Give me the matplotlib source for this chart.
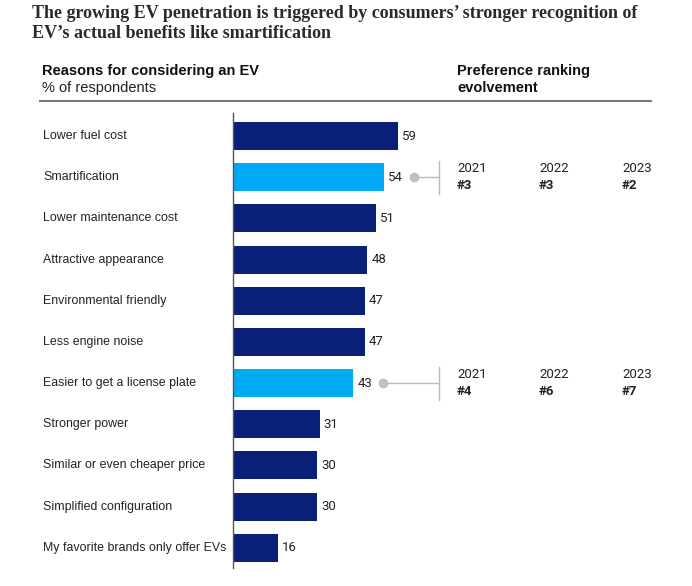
import matplotlib
matplotlib.use("Agg")
import matplotlib.pyplot as plt
import matplotlib.transforms as mtransforms
from matplotlib.lines import Line2D

plt.rcParams['font.family'] = ['Liberation Sans', 'DejaVu Sans']

categories = ["Lower fuel cost", "Smartification", "Lower maintenance cost",
              "Attractive appearance", "Environmental friendly", "Less engine noise",
              "Easier to get a license plate", "Stronger power",
              "Similar or even cheaper price", "Simplified configuration",
              "My favorite brands only offer EVs"]
values = [59, 54, 51, 48, 47, 47, 43, 31, 30, 30, 16]
highlight = ["Smartification", "Easier to get a license plate"]
years = ["2021", "2022", "2023"]
rankings = {
    "Smartification": ["#3", "#3", "#2"],
    "Easier to get a license plate": ["#4", "#6", "#7"],
}

DARK = "#0A1F78"
LIGHT = "#00A9F4"
NUMFONT = ['Roboto', 'Liberation Sans', 'DejaVu Sans']

W, H = 692, 586
fig = plt.figure(figsize=(W / 100, H / 100), dpi=100)

def fx(px):
    return px / W

def fy(py):
    return 1 - py / H

ax_left, ax_right, ax_top, ax_bottom = 233, 680, 113, 568
ax = fig.add_axes([fx(ax_left), fy(ax_bottom), fx(ax_right - ax_left), (ax_bottom - ax_top) / H])
ax.set_xlim(0, (ax_right - ax_left) / 2.8)
ax.set_ylim(len(categories) - 0.51, -0.56)

ypos = list(range(len(categories)))
colors = [LIGHT if c in highlight else DARK for c in categories]
ax.barh(ypos, values, height=0.68, color=colors, zorder=2)

for y, v in zip(ypos, values):
    ax.text(v + 1.4, y, str(v), va='center', ha='left', fontsize=9.5, color='#222222',
            family=NUMFONT)

trans_lbl = mtransforms.blended_transform_factory(fig.transFigure, ax.transData)
for y, c in zip(ypos, categories):
    fig.text(fx(43), y, c, transform=trans_lbl,
             fontsize=8.9, color='#222222', va='center', ha='left')

ax.set_yticks([])
ax.set_xticks([])
for s in ['top', 'right', 'bottom']:
    ax.spines[s].set_visible(False)
ax.spines['left'].set_color('#555555')
ax.spines['left'].set_linewidth(1.0)
ax.set_facecolor('none')

# ranking annotations
vline_x = fx(439)
year_x = [fx(457), fx(539), fx(622)]
for c, ranks in rankings.items():
    i = categories.index(c)
    v = values[i]
    cx = v + 10.7
    ax.plot([cx], [i], marker='o', ms=6, color='#C0C0C0', zorder=3, clip_on=False)
    line_end = fig.transFigure.transform((vline_x, 0))[0]
    end_data = ax.transData.inverted().transform((line_end, 0))[0]
    ax.plot([cx, end_data], [i, i], color='#BBBBBB', lw=1, zorder=2, clip_on=False)
    ax.plot([end_data, end_data], [i - 0.4, i + 0.4], color='#BBBBBB', lw=1, zorder=2, clip_on=False)
    for xx, yr, rk in zip(year_x, years, ranks):
        fig.text(xx, i - 0.22, yr, fontsize=9.5, color='#222222', va='center', ha='left',
                 transform=trans_lbl, family=NUMFONT)
        fig.text(xx, i + 0.21, rk, fontsize=9.5, color='#222222', va='center', ha='left',
                 fontweight='bold', transform=trans_lbl, family=NUMFONT)

# title
serif = ['Liberation Serif', 'DejaVu Serif']
fig.text(fx(32), fy(13), "The growing EV penetration is triggered by consumers\u2019 stronger recognition of",
         family=serif, fontsize=13, fontweight='bold',
         color='#2a2a2a', va='center', ha='left')
fig.text(fx(32), fy(33), "EV\u2019s actual benefits like smartification",
         family=serif, fontsize=13, fontweight='bold',
         color='#2a2a2a', va='center', ha='left')

# headers
fig.text(fx(42), fy(71), "Reasons for considering an EV", fontsize=10.5, fontweight='bold',
         color='#111111', va='center', ha='left')
fig.text(fx(42), fy(88), "% of respondents", fontsize=10.5, color='#222222', va='center', ha='left')
fig.text(fx(457), fy(71), "Preference ranking", fontsize=10.5, fontweight='bold',
         color='#111111', va='center', ha='left')
fig.text(fx(457), fy(88), "evolvement", fontsize=10.5, fontweight='bold',
         color='#111111', va='center', ha='left')

fig.add_artist(Line2D([fx(40), fx(651)], [fy(101), fy(101)], color='#777777', lw=1.5,
                      transform=fig.transFigure))

fig.savefig("out.png", dpi=100, facecolor='white')
